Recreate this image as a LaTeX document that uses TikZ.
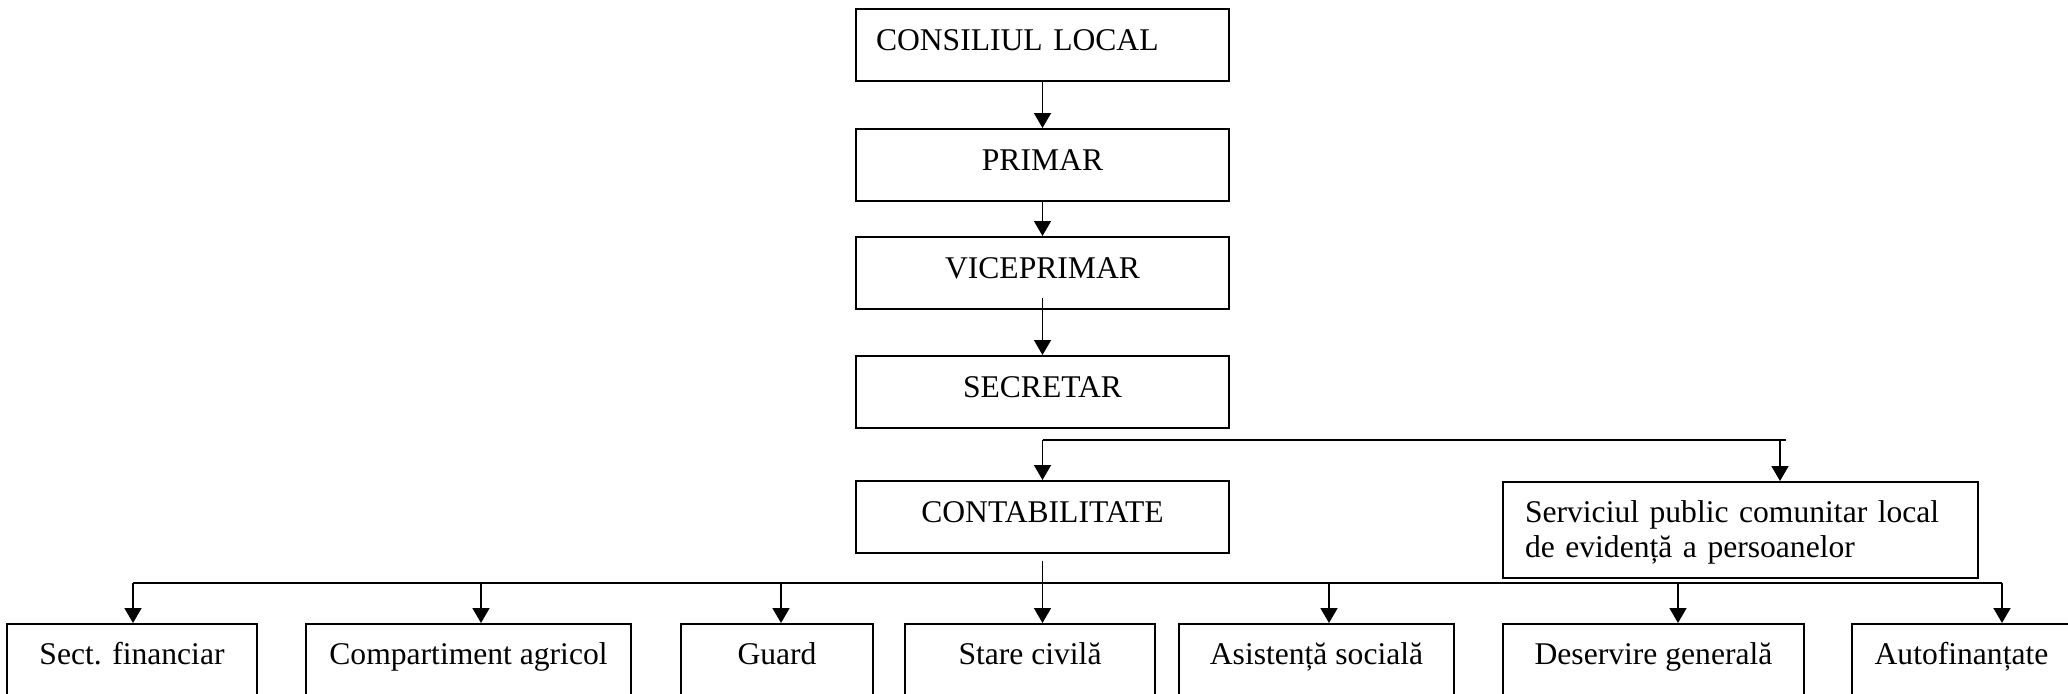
\documentclass[tikz,border=0pt]{standalone}
\usepackage{fontspec}
\setmainfont{Liberation Serif}
\usetikzlibrary{positioning, arrows.meta}

\tikzset{
  unit/.style = { draw, line width = 0.9pt, inner xsep = 0pt, inner ysep = 0pt,
                  text height = 21pt, text depth = 15pt },
  topunit/.style = { unit, minimum width = 186.5pt },
  dept/.style = { draw, line width = 0.9pt, anchor = north, inner sep = 0pt,
                  text height = 20.5pt, text depth = 22pt },
  link/.style = { line width = 0.8pt },
  arr/.style = { link, -{Triangle[length = 7.5pt, width = 8.5pt]} }
}

\begin{document}
\begin{tikzpicture}[x = 0.5pt, y = -0.5pt, font = \fontsize{15.8}{17.5}\selectfont]
    \useasboundingbox (0,0) rectangle (2068,693);

    \node [topunit, anchor = north, align = left, text width = 166.5pt, inner xsep = 10pt] (consiliu) at (1042.5,8) { CONSILIUL LOCAL };
    \node [topunit, below = 23.1pt of consiliu] (primar) { PRIMAR };
    \node [topunit, below = 17.1pt of primar] (vice) { VICEPRIMAR };
    \node [topunit, below = 22.6pt of vice] (secretar) { SECRETAR };
    \node [topunit, below = 25.6pt of secretar] (contab) { CONTABILITATE };
    \node [unit, anchor = north, align = left, text width = 215.5pt, inner xsep = 11pt,
           text height = 20.5pt, text depth = 27.5pt] (serv) at (1740.5,481)
          { Serviciul public comunitar local \\ de evidență a persoanelor };

    \node [dept, minimum width = 125pt] (financiar) at (132,623) { Sect. financiar };
    \node [dept, minimum width = 162.5pt] (agricol) at (468.5,623) { Compartiment agricol };
    \node [dept, minimum width = 96pt] (guard) at (777,623) { Guard };
    \node [dept, minimum width = 125pt] (stare) at (1030,623) { Stare civilă };
    \node [dept, minimum width = 137.5pt] (asist) at (1316.5,623) { Asistență socială };
    \node [dept, minimum width = 150.5pt] (deserv) at (1653.5,623) { Deservire generală };
    \node [dept, minimum width = 109.5pt] (autofin) at (1961.5,623) { Autofinanțate };

    \draw [arr] (consiliu) -- (primar);
    \draw [arr] (primar) -- (vice);
    \draw [arr] ([yshift = 6pt] vice.south) -- (secretar.north);

    % split under the secretary
    \coordinate (split) at (1042.5,440);
    \coordinate (splitend) at (1786,440);
    \coordinate (toserv) at (1780,440);
    \draw [link] (split) -- (splitend);
    \draw [arr] (split) -- (contab.north);
    \draw [arr] (toserv) -- (toserv |- serv.north);

    % bus to the departments
    \coordinate (busL) at (133,583);
    \coordinate (busR) at (2002,583);
    \draw [link] (busL) -- (busR);
    \draw [arr] ([yshift = -3.5pt] contab.south) -- (contab.south |- stare.north);
    \foreach \x/\dst in {133/financiar, 481/agricol, 781/guard, 1329/asist, 1678/deserv, 2002/autofin} {
      \coordinate (b-\dst) at (\x,583);
      \draw [arr] (b-\dst) -- (b-\dst |- \dst.north);
    }
\end{tikzpicture}
\end{document}
